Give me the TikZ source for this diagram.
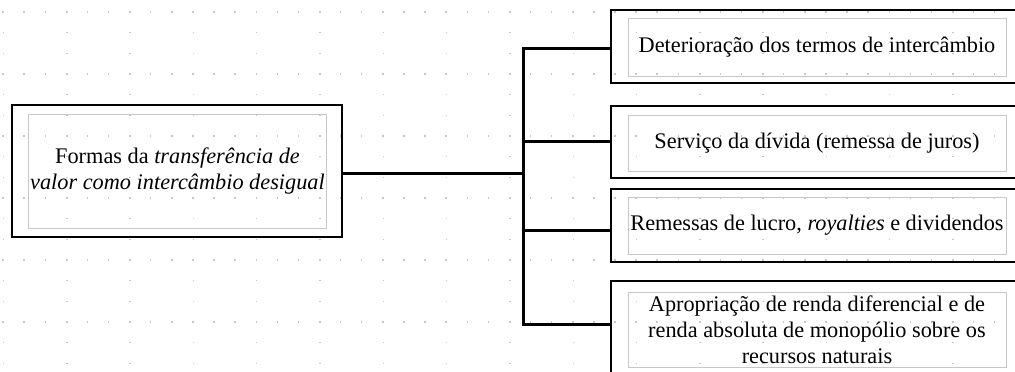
\documentclass[tikz,border=0pt]{standalone}
\usepackage{fontspec}
\setmainfont{Liberation Serif}
\begin{document}
\begin{tikzpicture}[x=1bp,y=-1bp,
  outer/.style={draw=black, line width=2.8bp, inner sep=0pt},
  inner/.style={draw=black!22, line width=1bp, inner sep=0pt, align=center,
    font=\fontsize{22.3bp}{25.8bp}\selectfont},
  link/.style={draw=black, line width=3bp, line join=miter},
  dot/.style={fill=black!22}]
\useasboundingbox (0,0) rectangle (1015,371);
\clip (0,0) rectangle (1015,371);
% dotted grid
\foreach \r in {0,...,5}{
  \foreach \c in {0,...,48}{
    \fill[dot] ({3+21.1*\c-0.7},{12+62*\r-0.7}) rectangle ++(1.4,1.4);
  }
}
\foreach \c in {0,...,16}{
  \foreach \r in {-1,...,17}{
    \fill[dot] ({3.5+63.3*\c-0.7},{12+20.67*\r-0.7}) rectangle ++(1.4,1.4);
  }
}
% left box
\node[outer, minimum width=330bp, minimum height=132bp] (src) at (177,171) {};
\node[inner, minimum width=297bp, minimum height=114bp] (srcin) at (177.5,171)
  {Formas da \textit{transferência de}\\\textit{valor como intercâmbio desigual}};
% right boxes
\node[outer, minimum width=414bp, minimum height=73bp] (d1) at (818,46.5) {};
\node[inner, minimum width=378bp, minimum height=58bp] (d1in) at (817,47)
  {Deterioração dos termos de intercâmbio};
\node[outer, minimum width=414bp, minimum height=72bp] (d2) at (818,142) {};
\node[inner, minimum width=378bp, minimum height=56bp] (d2in) at (817,143)
  {Serviço da dívida (remessa de juros)};
\node[outer, minimum width=414bp, minimum height=73bp] (d3) at (818,225.5) {};
\node[inner, minimum width=378bp, minimum height=57bp] (d3in) at (817,225.5)
  {Remessas de lucro, \textit{royalties} e dividendos};
\node[outer, minimum width=414bp, minimum height=99bp] (d4) at (818,330.5) {};
\node[inner, minimum width=378bp, minimum height=75bp] (d4in) at (817,329.5)
  {Apropriação de renda diferencial e de\\renda absoluta de monopólio sobre os\\recursos naturais};
% junctions
\coordinate (j0) at (523,173);
\coordinate (j1) at (523,48);
\coordinate (j2) at (523,141);
\coordinate (j3) at (523,230);
\coordinate (j4) at (523,324);
% connectors
\draw[link] (d1.west |- j1) -- (j1) -- (j4) -- (d4.west |- j4);
\draw[link] (j2) -- (d2.west |- j2);
\draw[link] (j3) -- (d3.west |- j3);
\draw[link] (src.east |- j0) -- (j0);
\end{tikzpicture}
\end{document}
